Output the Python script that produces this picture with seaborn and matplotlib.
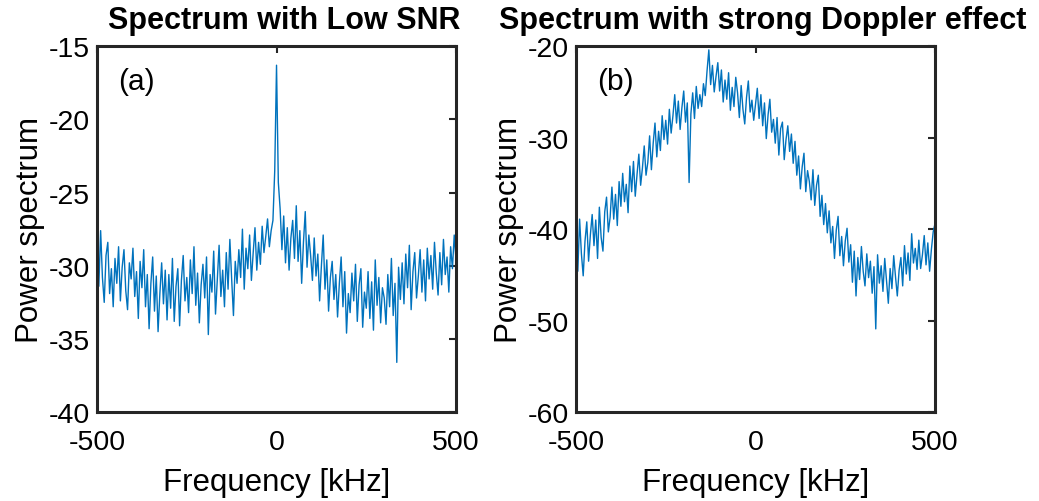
import numpy as np
import pandas as pd
import seaborn as sns
import matplotlib.pyplot as plt

# frequency grid, 5 kHz step
freq_khz = np.arange(-500, 505, 5)

# power spectrum (a) - low SNR
power_low_snr = [
    -29.1, -31.4, -27.6, -30.8, -32.5, -29.3, -28.4, -31.9, -30.2, -32.8,
    -29.5, -31.2, -28.7, -32.4, -30.1, -28.9, -31.7, -33.0, -29.8, -30.9,
    -28.8, -32.1, -30.4, -33.6, -29.7, -31.5, -28.9, -32.8, -30.6, -34.3,
    -31.2, -29.4, -33.1, -30.7, -34.5, -31.9, -29.8, -32.6, -30.3, -33.7,
    -30.6, -32.9, -29.5, -33.8, -31.4, -30.2, -34.1, -31.0, -29.3, -32.4,
    -30.8, -33.2, -29.6, -31.9, -28.7, -32.7, -30.5, -33.9, -31.3, -29.9,
    -32.2, -29.4, -34.7, -30.6, -31.8, -29.0, -33.3, -30.9, -28.6, -32.1,
    -30.3, -32.8, -29.1, -31.6, -28.2, -30.9, -33.4, -29.7, -31.2, -28.9,
    -30.8, -27.5, -31.6, -28.8, -30.2, -27.9, -31.0, -29.1, -27.4, -30.3,
    -28.4, -29.9, -27.3, -29.1, -28.0, -26.8, -28.7, -27.6, -26.9, -23.5,
    -16.3,
    -24.3, -26.1, -28.9, -26.6, -29.8, -27.4, -30.3, -28.1, -26.9, -29.5,
    -25.9, -29.7, -27.6, -31.2, -28.4, -26.3, -30.1, -27.9, -29.3, -31.0,
    -28.1, -30.7, -29.2, -32.4, -30.0, -27.9, -31.6, -29.6, -33.1, -30.8,
    -29.7, -32.3, -30.6, -33.5, -31.2, -29.4, -32.8, -30.4, -34.6, -31.9,
    -33.2, -30.5, -32.4, -29.9, -33.8, -31.3, -30.2, -34.2, -31.8, -32.9,
    -30.4, -33.6, -31.1, -34.4, -29.6, -32.7, -30.8, -33.9, -31.5, -32.2,
    -34.0, -30.6, -32.8, -29.5, -33.4, -31.2, -36.6, -30.1, -32.3, -29.8,
    -32.6, -29.2, -31.5, -28.6, -33.0, -30.4, -29.1, -32.2, -30.7, -28.9,
    -31.8, -29.6, -32.4, -28.8, -30.9, -29.3, -31.6, -28.4, -30.5, -32.0,
    -29.1, -31.3, -28.2, -30.6, -29.4, -31.8, -28.7, -30.2, -27.9, -29.6,
]

# power spectrum (b) - strong Doppler effect
power_doppler = [
    -40.1, -44.6, -38.9, -42.7, -45.1, -41.3, -39.2, -43.5, -40.6, -38.4,
    -41.8, -39.0, -43.2, -37.6, -40.9, -42.4, -38.1, -36.5, -40.3, -38.7,
    -35.4, -38.9, -36.2, -39.6, -34.8, -37.5, -33.9, -37.0, -35.1, -38.2,
    -33.1, -35.9, -32.6, -36.4, -34.0, -31.8, -35.2, -33.3, -30.9, -34.1,
    -32.7, -29.8, -33.5, -30.6, -28.4, -32.1, -29.3, -31.4, -27.6, -30.2,
    -28.1, -30.7, -26.9, -29.5, -27.6, -25.3, -28.4, -26.0, -29.1, -26.7,
    -24.9, -28.3, -26.2, -34.9, -27.4, -25.1, -27.9, -24.4, -26.8, -25.3,
    -26.6, -24.1, -25.4, -22.7, -20.4, -24.2, -22.1, -25.0, -23.3, -21.8,
    -24.9, -22.6, -26.1, -23.7, -25.8, -22.9, -27.0, -24.5, -26.6, -23.4,
    -25.1, -27.8, -24.3, -26.9, -28.5, -25.6, -23.8, -27.2, -25.9, -28.1,
    -26.4,
    -24.6, -27.9, -25.3, -28.7, -26.2, -30.1, -27.5, -25.8, -29.4, -28.0,
    -30.6, -27.8, -31.9, -29.0, -28.3, -32.4, -30.2, -28.7, -31.5, -29.6,
    -32.8, -30.4, -34.1, -32.0, -35.6, -33.2, -31.7, -35.9, -33.6, -34.8,
    -36.8, -33.5, -37.4, -35.2, -34.1, -38.6, -36.3, -39.5, -37.2, -40.4,
    -38.0, -41.5, -39.7, -43.2, -40.1, -38.6, -42.9, -40.8, -44.0, -41.3,
    -39.9, -43.6, -41.7, -45.8, -42.4, -47.3, -43.1, -45.5, -41.9, -44.6,
    -46.2, -42.7, -45.3, -43.5, -47.0, -44.1, -50.9, -42.8, -45.9, -44.0,
    -46.8, -43.2, -45.7, -48.1, -44.3, -46.5, -42.9, -45.2, -47.3, -44.5,
    -43.1, -46.2, -41.8, -44.9, -42.6, -45.6, -40.5, -43.7, -42.1, -44.4,
    -41.2, -44.3, -42.8, -40.7, -43.9, -41.5, -44.6, -42.2, -40.3, -39.4,
]

titles = ['Spectrum with Low SNR', 'Spectrum with strong Doppler effect']
panel_tags = ['(a)', '(b)']
ylims = [(-40, -15), (-60, -20)]
yticks = [np.arange(-40, -14, 5), np.arange(-60, -19, 10)]
xticks = [-500, 0, 500]

sns.set_style('white')
plt.rcParams['font.family'] = ['Liberation Sans', 'DejaVu Sans']
plt.rcParams['axes.unicode_minus'] = False
plt.rcParams['text.color'] = 'black'
plt.rcParams['axes.labelcolor'] = 'black'

line_color = '#0072BD'
edge = '#262626'

fig = plt.figure(figsize=(10.39, 5.02), dpi=100)
ax_a = fig.add_axes([0.0934, 0.177, 0.3455, 0.729])
ax_b = fig.add_axes([0.5544, 0.177, 0.3455, 0.729])

for ax, y, title, tag, ylim, yt in zip([ax_a, ax_b], [power_low_snr, power_doppler],
                                       titles, panel_tags, ylims, yticks):
    df = pd.DataFrame({'f': freq_khz, 'p': y})
    sns.lineplot(data=df, x='f', y='p', ax=ax, color=line_color, linewidth=1.0)
    ax.set_xlim(-500, 500)
    ax.set_ylim(*ylim)
    ax.set_xticks(xticks)
    ax.set_yticks(yt)
    ax.set_xlabel('Frequency [kHz]', fontsize=22.5, labelpad=9)
    ax.set_ylabel('Power spectrum', fontsize=22.5, labelpad=3)
    ax.set_title(title, fontsize=22, fontweight='bold', pad=13, color='black', x=0.52)
    ax.tick_params(direction='in', length=5, width=1.5, colors=edge, labelcolor='black',
                   labelsize=20.5, top=True, right=True)
    ax.tick_params(axis='x', pad=12)
    ax.tick_params(axis='y', pad=5)
    for s in ax.spines.values():
        s.set_color(edge)
        s.set_linewidth(2.2)
    ax.text(0.058, 0.905, tag, transform=ax.transAxes, fontsize=21.5, va='center',
            color='black')

fig.savefig('out.png', dpi=100)
